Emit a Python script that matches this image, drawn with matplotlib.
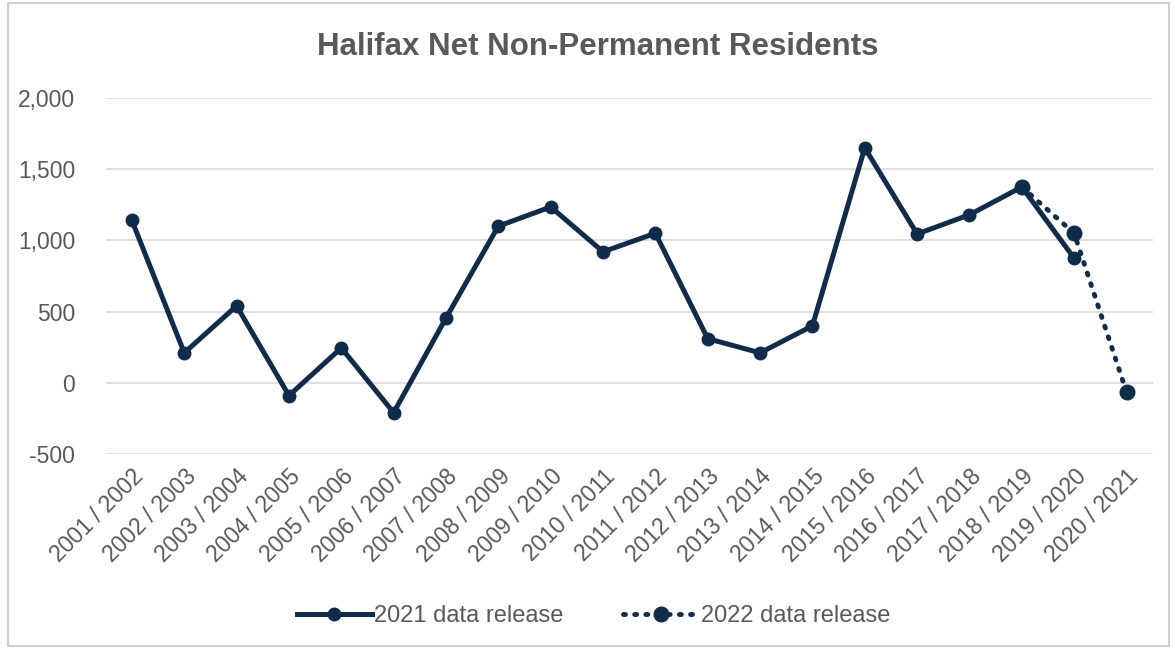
import matplotlib
matplotlib.use("Agg")
import matplotlib.pyplot as plt
from matplotlib.patches import Rectangle
import numpy as np

years = ["2001 / 2002", "2002 / 2003", "2003 / 2004", "2004 / 2005", "2005 / 2006",
         "2006 / 2007", "2007 / 2008", "2008 / 2009", "2009 / 2010", "2010 / 2011",
         "2011 / 2012", "2012 / 2013", "2013 / 2014", "2014 / 2015", "2015 / 2016",
         "2016 / 2017", "2017 / 2018", "2018 / 2019", "2019 / 2020", "2020 / 2021"]

release_2021 = [1140, 210, 540, -90, 245, -210, 455, 1100, 1235, 920,
                1050, 310, 210, 400, 1650, 1045, 1180, 1375, 875, np.nan]
release_2022 = [np.nan] * 17 + [1375, 1050, -65]

navy = "#112B4B"
text_gray = "#595959"

plt.rcParams["font.family"] = ["Liberation Sans", "DejaVu Sans"]

fig = plt.figure(figsize=(11.75, 6.49), dpi=100)
ax = fig.add_axes([0.090, 0.3005, 0.891, 0.5485])

x = np.arange(len(years))
ax.plot(x, release_2022, color=navy, lw=3.5, ls=(0, (0.4, 1.9)), dash_capstyle="round",
        marker="o", ms=10.5, label="2022 data release", zorder=2)
ax.plot(x, release_2021, color=navy, lw=3.6, marker="o", ms=9,
        label="2021 data release", zorder=3)

ax.set_xlim(-0.5, len(years) - 0.5)
ax.set_ylim(-500, 2000)
ax.set_yticks(np.arange(-500, 2001, 500))
ax.yaxis.set_major_formatter(matplotlib.ticker.FuncFormatter(lambda v, _: f"{int(v):,}"))
ax.set_xticks(x)
ax.set_xticklabels(years, rotation=45, ha="right", rotation_mode="anchor")
ax.tick_params(axis="both", length=0, labelsize=16.5, labelcolor=text_gray)
ax.tick_params(axis="x", pad=8)
ax.tick_params(axis="y", pad=22)
ax.grid(axis="y", color="#D9D9D9", lw=1.2)
ax.set_axisbelow(True)
for s in ax.spines.values():
    s.set_visible(False)

fig.text(0.509, 0.927, "Halifax Net Non-Permanent Residents", ha="center", va="center",
         fontsize=22.5, fontweight="bold", color=text_gray)

handles, labels = ax.get_legend_handles_labels()
ax.legend(handles[::-1], labels[::-1], loc="center", bbox_to_anchor=(0.505, 0.051),
          bbox_transform=fig.transFigure, ncol=2, frameon=False, fontsize=17,
          labelcolor=text_gray, handlelength=3.2, handletextpad=0.1, columnspacing=2.5)

fig.patches.append(Rectangle((0.007, 0.005), 0.988, 0.99, transform=fig.transFigure,
                             fill=False, edgecolor="#D0D0D0", lw=1.5))

fig.savefig("out.png", dpi=100)
